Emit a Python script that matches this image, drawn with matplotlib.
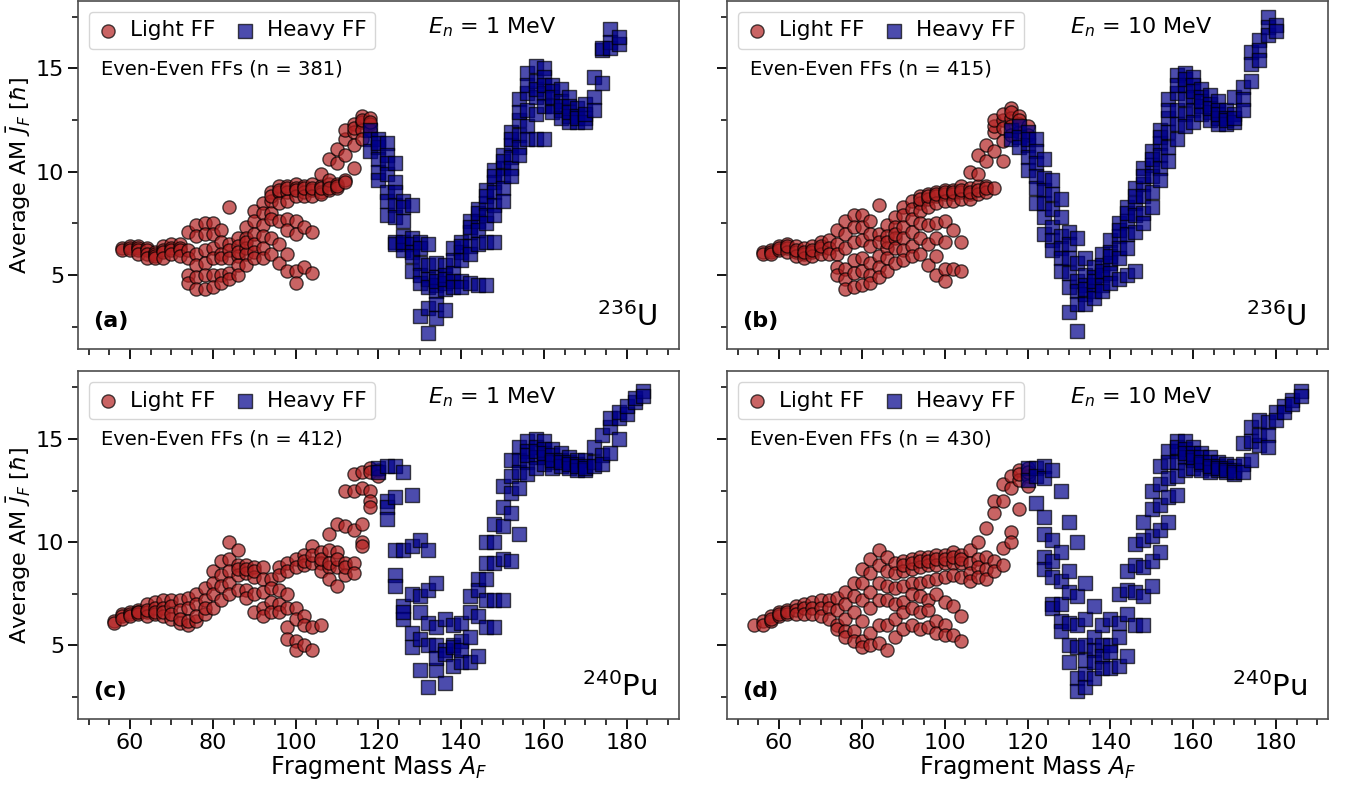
import matplotlib.pyplot as plt
import numpy as np

# average angular momentum per fragment mass (even-even fragments)
# 236U, En = 1 MeV
a_light = {
    58: [6.3, 6.2], 60: [6.4, 6.3, 6.2], 62: [6.4, 6.3, 6.2, 6.0], 64: [6.3, 6.2, 6.0, 5.8],
    66: [6.1, 6.0, 5.9, 5.8], 68: [6.4, 6.2, 6.1, 5.8], 70: [6.5, 6.3, 6.2, 6.0],
    72: [6.5, 6.3, 6.2, 5.9],
    74: [7.1, 6.2, 5.8, 5.0, 4.6], 76: [7.4, 6.9, 6.0, 5.5, 4.9, 4.3],
    78: [7.5, 7.0, 6.2, 5.6, 5.0, 4.3], 80: [7.5, 7.0, 6.3, 5.8, 5.0, 4.4],
    82: [7.2, 6.6, 6.0, 5.8, 5.0, 4.6], 84: [8.3, 6.5, 6.2, 5.8, 5.1, 4.8],
    86: [6.8, 6.4, 5.9, 5.5, 5.0, 6.1], 88: [7.3, 6.8, 6.3, 6.0, 5.5, 6.6],
    90: [8.1, 7.6, 7.0, 6.5, 6.1, 5.8], 92: [8.5, 8.0, 7.4, 6.9, 6.3, 5.8],
    94: [9.0, 8.6, 8.0, 7.7, 6.8, 6.0, 8.8], 96: [9.3, 9.0, 8.5, 7.6, 6.5, 5.6, 9.1],
    98: [9.3, 9.0, 8.6, 7.7, 7.2, 6.0, 5.2, 9.2],
    100: [9.4, 9.2, 8.8, 7.6, 7.0, 5.2, 4.6, 9.1],
    102: [9.3, 9.0, 8.8, 7.3, 5.4, 9.2], 104: [9.4, 9.1, 8.8, 7.1, 5.1, 9.2],
    106: [9.3, 9.0, 8.9, 9.9, 9.2], 108: [9.4, 9.1, 10.6, 9.6, 9.2],
    110: [9.4, 9.2, 11.1, 10.4, 9.3],
    112: [9.6, 11.6, 10.8, 12.0, 9.5], 114: [12.3, 11.9, 11.3, 10.2, 12.1],
    116: [12.7, 12.4, 12.0, 11.6, 12.5], 118: [12.6, 12.3, 12.0, 12.4],
}
a_heavy = {
    118: [12.0, 11.6, 11.0], 120: [11.6, 11.2, 10.6, 10.0, 9.6, 11.4],
    122: [11.4, 10.8, 10.4, 9.9, 9.0, 8.6, 7.9], 124: [10.4, 9.5, 9.0, 8.4, 7.8, 6.6, 6.5],
    126: [8.6, 8.3, 7.6, 6.9, 6.5, 6.2, 6.6], 128: [8.4, 6.8, 6.5, 6.1, 5.9, 5.2],
    130: [6.6, 6.3, 5.6, 5.0, 4.6, 3.0], 132: [6.5, 5.5, 4.8, 4.4, 3.4, 2.2],
    134: [5.6, 4.9, 4.5, 4.2, 3.6, 2.9, 4.7], 136: [5.5, 5.0, 4.6, 4.3, 3.3, 4.8],
    138: [6.3, 5.7, 5.1, 4.7, 4.4], 140: [6.6, 6.1, 5.7, 4.7, 4.4, 6.4],
    142: [7.6, 7.1, 6.4, 6.0, 4.6, 7.3], 144: [8.2, 7.6, 7.2, 6.5, 4.5, 8.0],
    146: [9.1, 8.5, 7.9, 7.5, 6.6, 4.5, 8.8], 148: [10.1, 9.5, 9.0, 8.4, 7.9, 6.6, 9.8],
    150: [10.8, 10.2, 9.8, 9.2, 8.6, 10.5], 152: [11.9, 11.3, 10.7, 10.2, 9.8, 11.6],
    154: [13.5, 12.5, 11.8, 11.2, 10.8, 12.9], 156: [14.8, 13.8, 13.0, 12.2, 11.6, 14.2],
    158: [15.1, 14.4, 13.6, 12.8, 11.6, 14.0], 160: [15.0, 14.6, 13.8, 13.2, 11.6, 14.2],
    162: [14.2, 13.9, 13.2, 12.9, 13.6], 164: [14.0, 13.4, 13.0, 12.6, 13.2],
    166: [13.6, 13.2, 12.7, 12.4, 12.9], 168: [13.1, 12.7, 12.4, 12.6],
    170: [13.3, 12.6, 12.4, 12.8],
    172: [14.6, 13.6, 13.0], 174: [15.9, 14.3, 16.0], 176: [16.9, 16.3, 16.0],
    178: [16.2, 16.5],
}

# 236U, En = 10 MeV
b_light = {
    56: [6.1, 6.0], 58: [6.2, 6.1, 6.0], 60: [6.4, 6.2, 6.3], 62: [6.5, 6.3, 6.1, 6.4],
    64: [6.4, 6.1, 5.9, 6.2], 66: [6.3, 6.0, 5.8, 6.1], 68: [6.4, 6.1, 5.9, 6.2],
    70: [6.6, 6.3, 6.0, 6.4],
    72: [6.7, 6.3, 6.0], 74: [7.2, 6.5, 6.0, 5.4, 5.0], 76: [7.6, 7.0, 6.3, 5.3, 4.8, 4.3],
    78: [7.9, 7.3, 6.6, 5.7, 5.1, 4.4], 80: [7.9, 7.3, 6.7, 5.8, 5.2, 4.5],
    82: [7.6, 7.0, 6.4, 5.6, 5.0, 4.6], 84: [8.4, 7.0, 6.6, 5.9, 5.4, 4.9],
    86: [7.4, 6.9, 6.3, 5.8, 5.2, 6.6], 88: [7.8, 7.3, 6.8, 6.3, 5.6, 7.0],
    90: [8.3, 7.9, 7.3, 6.8, 6.2, 5.7], 92: [8.6, 8.2, 7.7, 7.1, 6.4, 5.9],
    94: [8.8, 8.5, 8.1, 7.5, 6.8, 6.0, 8.7], 96: [8.9, 8.7, 8.3, 7.4, 6.5, 5.5, 8.8],
    98: [9.0, 8.8, 8.5, 7.5, 6.8, 5.9, 5.0, 8.9],
    100: [9.1, 8.9, 8.6, 7.6, 6.6, 5.3, 4.7, 9.0],
    102: [9.1, 8.9, 8.6, 7.2, 5.3, 9.0], 104: [9.3, 9.0, 8.7, 6.6, 5.2, 9.1],
    106: [9.2, 8.9, 8.7, 10.0, 9.0], 108: [9.3, 8.9, 10.8, 9.9, 9.1],
    110: [9.3, 9.0, 11.3, 10.5, 9.2],
    112: [9.2, 11.9, 11.0, 12.2, 12.5], 114: [12.5, 12.1, 11.5, 10.5, 12.8],
    116: [13.1, 12.6, 12.2, 11.8, 12.9], 118: [12.7, 12.3, 11.9, 12.5], 120: [12.2, 11.8],
}
b_heavy = {
    116: [12.0, 11.6], 118: [12.2, 11.7, 11.2], 120: [11.9, 11.3, 10.7, 10.1, 11.6],
    122: [11.6, 11.0, 10.4, 9.8, 9.2, 8.5], 124: [10.6, 9.7, 9.1, 8.5, 7.8, 7.0],
    126: [9.6, 8.9, 8.2, 7.3, 6.7, 6.2], 128: [8.7, 7.8, 6.9, 6.3, 5.8, 5.2],
    130: [7.1, 6.5, 5.8, 5.1, 4.4, 3.2], 132: [6.8, 5.6, 4.7, 4.2, 3.6, 2.3],
    134: [5.8, 5.0, 4.5, 4.1, 3.6, 4.3], 136: [5.4, 4.9, 4.5, 4.2, 3.9, 4.7],
    138: [6.0, 5.5, 5.0, 4.5, 4.2, 5.2], 140: [6.7, 6.1, 5.6, 5.1, 4.6, 5.9],
    142: [7.5, 6.9, 6.3, 5.8, 4.8, 7.2], 144: [8.3, 7.6, 7.0, 6.3, 5.0, 8.0],
    146: [9.2, 8.5, 7.9, 7.1, 5.2, 8.8], 148: [10.2, 9.4, 8.8, 8.0, 7.5, 9.8],
    150: [11.0, 10.3, 9.8, 9.0, 8.3, 10.6], 152: [12.0, 11.4, 10.8, 10.2, 9.6, 11.7],
    154: [13.5, 12.6, 11.9, 11.2, 10.5, 13.0], 156: [14.7, 13.8, 13.0, 12.3, 11.6, 14.2],
    158: [14.8, 14.2, 13.5, 12.8, 12.2, 14.5], 160: [14.6, 14.2, 13.6, 13.0, 12.4, 13.9],
    162: [14.0, 13.6, 13.2, 12.8, 13.4], 164: [13.7, 13.3, 12.9, 12.5, 13.1],
    166: [13.4, 13.0, 12.6, 12.3, 12.8], 168: [13.0, 12.6, 12.3, 12.5],
    170: [13.6, 12.8, 12.4, 12.6],
    172: [14.1, 13.5, 13.0], 174: [15.8, 15.2, 14.4], 176: [16.4, 15.9, 15.4],
    178: [17.5, 17.0, 16.6], 180: [17.1, 16.8],
}

# 240Pu, En = 1 MeV
c_light = {
    56: [6.2, 6.1], 58: [6.5, 6.4, 6.3], 60: [6.6, 6.5, 6.4], 62: [6.7, 6.6, 6.5, 6.6],
    64: [7.0, 6.6, 6.4, 6.7], 66: [7.1, 6.8, 6.5, 6.6], 68: [7.2, 6.8, 6.4, 6.6],
    70: [7.2, 6.9, 6.3, 6.5],
    72: [7.2, 6.7, 6.1, 6.3], 74: [7.3, 6.8, 6.0, 6.2], 76: [7.5, 7.0, 6.2, 6.4],
    78: [7.8, 7.2, 6.5, 6.8],
    80: [8.6, 8.0, 7.5, 6.8], 82: [9.1, 8.4, 7.9, 7.2], 84: [10.0, 9.2, 8.6, 8.0, 7.5],
    86: [9.6, 8.9, 8.4, 7.7, 8.7], 88: [8.9, 8.5, 7.7, 7.3, 8.7], 90: [8.8, 8.3, 7.5, 6.6, 8.6],
    92: [8.8, 8.2, 7.6, 6.8, 6.4], 94: [8.2, 7.8, 7.1, 6.6], 96: [8.8, 8.4, 7.7, 7.0, 6.6],
    98: [9.0, 8.6, 7.5, 6.8, 5.9, 5.3], 100: [9.2, 8.8, 6.8, 6.3, 5.2, 4.8],
    102: [9.4, 8.9, 6.4, 6.0, 5.0, 9.1], 104: [9.8, 9.0, 5.9, 4.8, 9.4],
    106: [9.5, 9.0, 8.6, 6.0, 9.2],
    108: [10.4, 9.6, 8.8, 8.2, 9.0], 110: [10.9, 9.5, 8.8, 7.9, 9.2],
    112: [12.5, 10.8, 9.0, 8.4, 8.8],
    114: [13.3, 12.5, 10.6, 9.0, 8.5], 116: [13.4, 12.6, 10.9, 10.0, 9.8],
    118: [13.6, 12.5, 12.0, 11.7, 13.4], 120: [13.5, 13.2],
}
c_heavy = {
    120: [13.6, 13.4], 122: [13.7, 12.0, 11.7, 11.1], 124: [13.7, 12.2, 9.6, 8.4, 7.9],
    126: [13.4, 9.6, 6.9, 6.3, 6.6], 128: [12.3, 9.8, 5.6, 4.9, 7.5],
    130: [10.1, 7.4, 6.6, 3.8, 5.3], 132: [9.6, 7.7, 6.1, 3.0, 5.0],
    134: [8.0, 5.9, 5.0, 3.8, 4.4], 136: [6.3, 4.8, 4.6, 3.2], 138: [6.0, 5.0, 4.0, 4.9],
    140: [6.1, 4.2, 5.2, 4.8], 142: [7.4, 6.6, 4.2, 5.4], 144: [8.2, 7.7, 6.4, 4.5],
    146: [10.0, 9.0, 8.2, 7.2, 5.9], 148: [10.9, 10.0, 9.0, 7.2, 5.9],
    150: [12.7, 11.7, 10.8, 9.2, 7.2], 152: [14.0, 13.2, 12.4, 11.4, 9.1],
    154: [14.6, 14.0, 13.4, 12.6, 10.4], 156: [14.9, 14.4, 13.9, 13.3, 14.2],
    158: [15.0, 14.6, 14.1, 13.6, 14.4], 160: [14.9, 14.5, 14.1, 13.8, 14.3],
    162: [14.5, 14.2, 13.9, 13.6, 14.0], 164: [14.3, 14.0, 13.7, 13.9],
    166: [14.1, 13.9, 13.6, 13.8],
    168: [14.0, 13.8, 13.5, 13.7], 170: [14.0, 13.7, 13.5, 13.6], 172: [13.9, 13.7, 14.6],
    174: [14.2, 13.8, 15.2], 176: [14.3, 15.6, 16.0], 178: [15.0, 16.0, 16.3],
    180: [16.2, 16.6], 182: [16.8, 17.0], 184: [17.3, 17.1],
}

# 240Pu, En = 10 MeV
d_light = {
    54: [6.0], 56: [6.2, 6.0], 58: [6.4, 6.2, 6.3], 60: [6.6, 6.4, 6.5], 62: [6.7, 6.5, 6.6],
    64: [6.9, 6.7, 6.5], 66: [7.0, 6.8, 6.5], 68: [7.1, 6.8, 6.5], 70: [7.2, 6.8, 6.4],
    72: [7.2, 6.8, 6.3], 74: [7.3, 6.7, 6.0, 5.8], 76: [7.6, 7.0, 6.3, 5.7, 5.4],
    78: [8.0, 7.4, 6.6, 5.7, 5.2], 80: [8.7, 8.0, 7.2, 6.2, 5.2, 4.9],
    82: [9.2, 8.5, 7.6, 6.8, 5.6, 5.0], 84: [9.6, 8.9, 8.0, 7.2, 6.0, 5.1],
    86: [9.3, 8.6, 7.9, 7.2, 6.0, 4.8], 88: [9.0, 8.5, 7.8, 7.0, 6.3, 5.4],
    90: [9.1, 8.6, 7.9, 7.1, 6.6, 5.8, 8.9], 92: [9.2, 8.7, 8.0, 7.5, 6.8, 6.0, 9.0],
    94: [9.3, 8.8, 8.0, 7.4, 6.6, 5.8, 9.1], 96: [9.3, 8.9, 8.1, 7.2, 6.7, 5.9, 9.1],
    98: [9.4, 8.9, 8.2, 7.5, 6.2, 5.6, 9.2], 100: [9.4, 9.0, 8.3, 7.1, 6.0, 5.5, 9.2],
    102: [9.5, 9.0, 8.4, 6.9, 5.5, 9.3], 104: [9.4, 9.0, 8.3, 6.4, 5.2, 9.2],
    106: [9.6, 9.0, 8.5, 8.1], 108: [10.0, 9.2, 8.8, 8.3], 110: [10.7, 9.3, 8.7, 8.2],
    112: [12.0, 11.4, 9.1, 8.6], 114: [12.8, 12.0, 9.7, 8.9], 116: [13.2, 12.6, 10.5, 10.0],
    118: [13.5, 13.0, 11.6, 13.3], 120: [13.6, 13.2, 12.7, 13.4],
}
d_heavy = {
    120: [13.6, 13.0], 122: [13.6, 13.2, 11.9], 124: [13.7, 13.1, 11.2, 10.4, 9.3, 8.7],
    126: [13.5, 10.1, 9.1, 8.3, 7.0, 6.8], 128: [12.5, 9.5, 8.1, 7.0, 6.2, 5.7],
    130: [11.0, 8.6, 7.6, 6.1, 5.0, 4.2], 132: [10.0, 7.4, 6.0, 4.9, 3.4, 2.8],
    134: [8.0, 6.3, 5.0, 4.3, 3.6, 3.0], 136: [6.9, 5.4, 4.8, 4.2, 3.4],
    138: [6.0, 5.0, 4.5, 3.9], 140: [6.3, 5.0, 4.7, 3.9], 142: [7.5, 6.1, 5.4, 4.0],
    144: [8.6, 7.7, 6.5, 4.5], 146: [9.9, 8.9, 7.6, 6.0], 148: [11.0, 10.1, 8.8, 7.4, 6.0],
    150: [12.5, 11.6, 10.3, 9.1, 7.9], 152: [13.7, 12.8, 11.8, 10.6, 9.5],
    154: [14.4, 13.9, 13.1, 12.2, 11.0], 156: [14.9, 14.4, 13.9, 13.2, 12.3, 14.6],
    158: [14.9, 14.5, 14.1, 13.5, 14.3], 160: [14.6, 14.3, 14.0, 13.6, 14.1],
    162: [14.3, 14.1, 13.8, 13.5, 13.9], 164: [14.1, 13.9, 13.6, 13.4, 13.7],
    166: [13.9, 13.7, 13.5, 13.6],
    168: [13.8, 13.6, 13.4, 13.5], 170: [13.7, 13.5, 13.3, 13.4], 172: [14.8, 13.8, 13.4],
    174: [15.6, 14.9, 14.0], 176: [15.9, 14.7, 15.2], 178: [15.8, 15.2, 14.6],
    180: [16.3, 15.9], 182: [16.6, 16.3], 184: [16.9, 16.7], 186: [17.3, 17.1],
}

panel_tags = ["(a)", "(b)", "(c)", "(d)"]
energies = ["1", "10", "1", "10"]
nuclei = [r"$^{236}$U", r"$^{236}$U", r"$^{240}$Pu", r"$^{240}$Pu"]
counts = [381, 415, 412, 430]


def to_xy(d):
    xs, ys = [], []
    for m, vals in d.items():
        for v in vals:
            xs.append(m)
            ys.append(v)
    return np.array(xs), np.array(ys)


plt.rcParams["axes.edgecolor"] = "0.3"
plt.rcParams["axes.linewidth"] = 1.2

fig, axs = plt.subplots(2, 2, figsize=(13.51, 7.89), dpi=100, sharex=True, sharey=True)
fig.subplots_adjust(left=0.0577, right=0.983, bottom=0.0887, top=0.9987, wspace=0.08, hspace=0.066)

data = [(a_light, a_heavy), (b_light, b_heavy), (c_light, c_heavy), (d_light, d_heavy)]

for i, ax in enumerate(axs.flat):
    lx, ly = to_xy(data[i][0])
    hx, hy = to_xy(data[i][1])
    ax.scatter(lx, ly, s=90, marker="o", color="firebrick", edgecolor="k",
               linewidth=1, alpha=0.7, label="Light FF")
    ax.scatter(hx, hy, s=90, marker="s", color="darkblue", edgecolor="k",
               linewidth=1, alpha=0.7, label="Heavy FF")
    ax.legend(loc="upper left", ncol=2, fontsize=15.5, handlelength=1.0,
              handletextpad=0.5, columnspacing=0.9, borderaxespad=0.5)
    ax.text(0.038, 0.805, f"Even-Even FFs (n = {counts[i]})", transform=ax.transAxes,
            fontsize=14, va="center", ha="left")
    ax.text(0.69, 0.925, r"$E_n$ = " + energies[i] + " MeV", transform=ax.transAxes,
            fontsize=16, va="center", ha="center")
    ax.text(0.025, 0.08, panel_tags[i], transform=ax.transAxes, fontsize=16,
            fontweight="bold", va="center", ha="left")
    ax.text(0.965, 0.065, nuclei[i], transform=ax.transAxes, fontsize=21,
            va="baseline", ha="right")
    ax.minorticks_on()
    ax.tick_params(which="major", length=7, width=1.3, labelsize=16, pad=3, direction="out")
    ax.tick_params(which="minor", length=4, width=1.1, direction="out")
    ax.xaxis.set_major_locator(plt.MultipleLocator(20))
    ax.xaxis.set_minor_locator(plt.MultipleLocator(5))
    ax.yaxis.set_major_locator(plt.MultipleLocator(5))
    ax.yaxis.set_minor_locator(plt.MultipleLocator(2.5))

axs[0, 0].set_ylabel(r"Average AM $\bar{J}_F$ [$\hbar$]", fontsize=16, labelpad=2)
axs[1, 0].set_ylabel(r"Average AM $\bar{J}_F$ [$\hbar$]", fontsize=16, labelpad=2)
axs[1, 0].set_xlabel(r"Fragment Mass $A_F$", fontsize=17, labelpad=1)
axs[1, 1].set_xlabel(r"Fragment Mass $A_F$", fontsize=17, labelpad=1)

plt.savefig("out.png", dpi=100)
